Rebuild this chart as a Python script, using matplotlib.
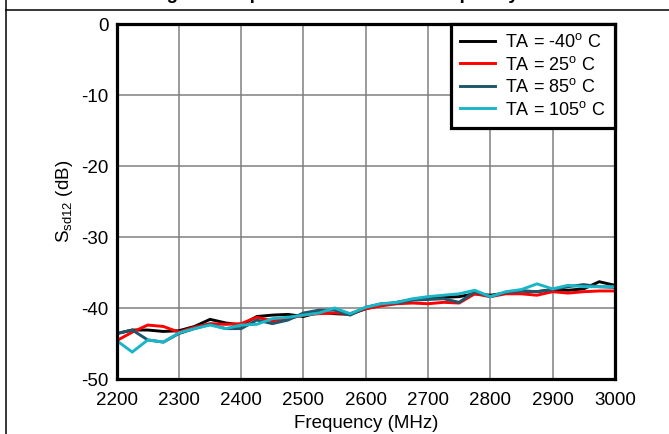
import matplotlib
matplotlib.use("Agg")
import matplotlib.pyplot as plt
from matplotlib.lines import Line2D
import numpy as np

plt.rcParams['font.family'] = ['Liberation Sans', 'DejaVu Sans']
plt.rcParams['mathtext.fontset'] = 'custom'
plt.rcParams['mathtext.rm'] = 'Liberation Sans'
plt.rcParams['mathtext.it'] = 'Liberation Sans'
plt.rcParams['mathtext.sf'] = 'Liberation Sans'
plt.rcParams['mathtext.default'] = 'rm'
plt.rcParams['axes.unicode_minus'] = False

# Frequency sweep (MHz)
freq = np.arange(2200, 3001, 25)

# Ssd12 (dB) per ambient temperature
ssd12_m40 = [-43.6, -43.1, -43.1, -43.3, -43.2, -42.6, -41.6, -42.1, -42.4,
             -41.2, -41.0, -40.9, -41.2, -40.6, -40.8, -40.9, -40.1, -39.6,
             -39.2, -38.8, -38.5, -38.5, -38.4, -38.0, -38.2, -37.9, -37.6,
             -37.7, -37.4, -37.5, -37.3, -36.3, -36.8]
ssd12_25 = [-44.6, -43.4, -42.4, -42.6, -43.4, -42.7, -42.2, -42.3, -42.2,
            -41.3, -41.8, -41.5, -41.0, -40.8, -40.7, -40.8, -40.1, -39.7,
            -39.4, -39.3, -39.4, -39.2, -39.3, -38.0, -38.4, -38.0, -38.0,
            -38.2, -37.7, -37.9, -37.7, -37.6, -37.6]
ssd12_85 = [-43.6, -43.1, -44.5, -44.8, -43.6, -42.9, -42.3, -42.9, -42.9,
            -41.7, -42.2, -41.7, -40.7, -40.3, -40.3, -41.0, -39.9, -39.4,
            -39.3, -38.9, -38.8, -38.7, -39.2, -37.7, -38.4, -37.8, -37.6,
            -37.7, -37.4, -37.0, -36.7, -37.0, -37.1]
ssd12_105 = [-44.6, -46.2, -44.5, -44.8, -43.5, -42.9, -42.4, -42.9, -42.4,
             -42.3, -41.5, -41.3, -41.0, -40.7, -40.0, -40.8, -39.9, -39.4,
             -39.2, -38.7, -38.4, -38.2, -38.0, -37.5, -38.4, -37.7, -37.4,
             -36.6, -37.3, -36.8, -37.0, -37.0, -37.0]

series = [
    (ssd12_m40, 'TA = -40$^{o}$ C', '#000000'),
    (ssd12_25, 'TA = 25$^{o}$ C', '#ff0000'),
    (ssd12_85, 'TA = 85$^{o}$ C', '#1f566b'),
    (ssd12_105, 'TA = 105$^{o}$ C', '#1ab6c8'),
]

x_ticks = [2200, 2300, 2400, 2500, 2600, 2700, 2800, 2900, 3000]
y_ticks = [-50, -40, -30, -20, -10, 0]

fig = plt.figure(figsize=(6.69, 4.34), dpi=100)
ax = fig.add_axes([0.1744, 0.1267, 0.7446, 0.818])

for vals, label, color in series:
    ax.plot(freq, vals, color=color, lw=2.1, label=label, solid_joinstyle='miter')

ax.set_xlim(2200, 3000)
ax.set_ylim(-50, 0)
ax.set_xticks(x_ticks)
ax.set_yticks(y_ticks)
ax.grid(True, color='#808080', lw=1.1)
ax.set_axisbelow(True)
ax.tick_params(length=0, labelsize=13.5)
ax.tick_params(axis='x', pad=9)
ax.tick_params(axis='y', pad=6)
for sp in ax.spines.values():
    sp.set_linewidth(2.3)
    sp.set_color('black')

ax.set_xlabel('Frequency (MHz)', fontsize=13.5)
ax.set_ylabel('S$_{sd12}$ (dB)', fontsize=13.5)
ax.xaxis.set_label_coords(0.5, -0.102)
ax.yaxis.set_label_coords(-0.083, 0.5)

leg = ax.legend(loc='upper right', bbox_to_anchor=(1.0, 1.0), borderaxespad=0,
                fontsize=13, fancybox=False, framealpha=1, edgecolor='black',
                handlelength=1.95, handletextpad=0.55, labelspacing=0.25,
                borderpad=0.5)
leg.get_frame().set_linewidth(2.3)
for h in leg.get_lines():
    h.set_linewidth(2.1)

# Table cell borders and the caption above the chart
fig.add_artist(Line2D([5.5 / 669, 5.5 / 669], [0, 1], color='black', lw=1.1,
                      transform=fig.transFigure))
fig.add_artist(Line2D([5.5 / 669, 1], [1 - 9.5 / 434, 1 - 9.5 / 434],
                      color='black', lw=1.1, transform=fig.transFigure))
fig.text(0.5, 1 + 1.5 / 434, 'Figure 9. Input Return Loss vs Frequency',
         ha='center', va='baseline', fontsize=13.5, fontweight='bold')

fig.savefig('out.png', dpi=100)
